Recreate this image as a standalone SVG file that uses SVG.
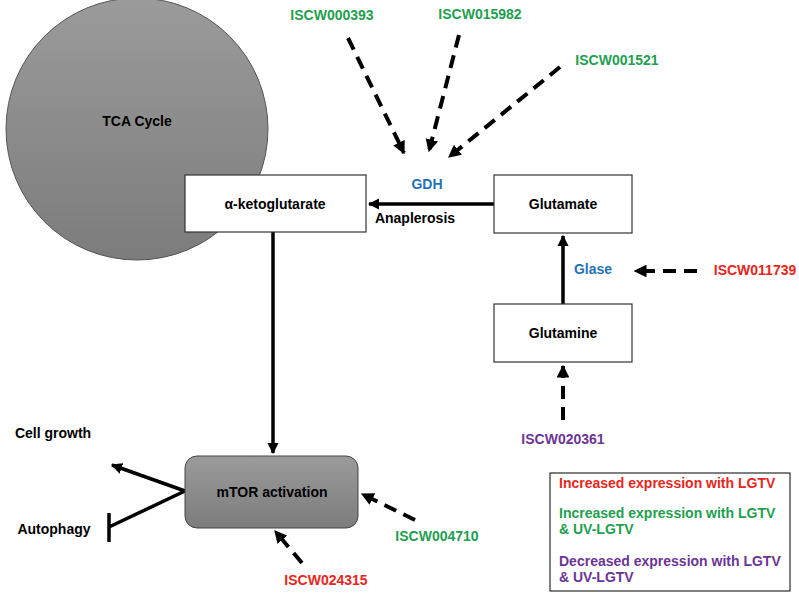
<svg xmlns="http://www.w3.org/2000/svg" width="799" height="595" viewBox="0 0 799 595">
<style>
text{font-family:"Liberation Sans",Arial,sans-serif;font-weight:bold;font-size:14px;text-anchor:middle}
.box{fill:#fff;stroke:#333;stroke-width:1.2}
.solid{stroke:#000;stroke-width:3.5;fill:none}
.dash{stroke:#000;stroke-width:4;fill:none;stroke-dasharray:13 8}
.g{fill:#1ea04f}.r{fill:#e82620}.p{fill:#6b3597}.b{fill:#1f73b8}
.l{text-anchor:start}
</style>
<defs>
<linearGradient id="gr" x1="0" y1="0" x2="0" y2="1"><stop offset="0" stop-color="#9b9b9b"/><stop offset="1" stop-color="#7c7c7c"/></linearGradient>
<marker id="ah" viewBox="0 0 10 10" refX="9" refY="5" markerWidth="3.2" markerHeight="3.2" markerUnits="strokeWidth" orient="auto"><path d="M0,0L10,5L0,10z" fill="#000"/></marker>
</defs>
<g id="tca"><circle cx="137" cy="129" r="131" fill="url(#gr)" stroke="#555" stroke-width="1"/><text x="137" y="126">TCA Cycle</text></g>
<g id="connectors">
<line class="solid" x1="494" y1="204" x2="369" y2="204" marker-end="url(#ah)"/>
<line class="solid" x1="563" y1="304" x2="563" y2="236" marker-end="url(#ah)"/>
<line class="solid" x1="273" y1="232" x2="273" y2="453" marker-end="url(#ah)"/>
<line class="solid" x1="185" y1="491" x2="112" y2="465" marker-end="url(#ah)"/>
<polyline class="solid" points="185,491 109,527"/>
<line class="solid" x1="109" y1="513" x2="109" y2="542"/>
<line class="dash" x1="348" y1="38" x2="404" y2="153" marker-end="url(#ah)"/>
<line class="dash" x1="459" y1="35" x2="429" y2="151" marker-end="url(#ah)"/>
<line class="dash" x1="560" y1="67" x2="449" y2="157" marker-end="url(#ah)"/>
<line class="dash" x1="697" y1="271" x2="635" y2="271" marker-end="url(#ah)"/>
<line class="dash" x1="563" y1="420" x2="563" y2="366" marker-end="url(#ah)"/>
<line class="dash" x1="415" y1="520" x2="362" y2="494" marker-end="url(#ah)"/>
<line class="dash" x1="302" y1="563" x2="275" y2="531" marker-end="url(#ah)"/>
</g>
<g id="akg"><rect class="box" x="185" y="175" width="181" height="57"/><text x="275" y="209">α-ketoglutarate</text></g>
<g id="glutamate"><rect class="box" x="494" y="175" width="138" height="58"/><text x="563" y="209">Glutamate</text></g>
<g id="glutamine"><rect class="box" x="494" y="304" width="138" height="58"/><text x="563" y="338">Glutamine</text></g>
<g id="mtor"><rect x="185" y="456" width="173" height="72" rx="12" fill="url(#gr)" stroke="#444" stroke-width="1"/><text x="272" y="497">mTOR activation</text></g>
<g id="labels">
<text class="b" x="427" y="189">GDH</text>
<text x="415" y="223">Anaplerosis</text>
<text class="b" x="593" y="274">Glase</text>
<text x="53" y="438">Cell growth</text>
<text x="54" y="534">Autophagy</text>
</g>
<g id="genes">
<text class="g" x="332" y="20">ISCW000393</text>
<text class="g" x="480" y="19">ISCW015982</text>
<text class="g" x="617" y="65">ISCW001521</text>
<text class="r" x="755" y="275">ISCW011739</text>
<text class="p" x="563" y="444">ISCW020361</text>
<text class="g" x="437" y="541">ISCW004710</text>
<text class="r" x="326" y="585">ISCW024315</text>
</g>
<g id="legend">
<rect x="550" y="473" width="240" height="118" fill="#fff" stroke="#000" stroke-width="1"/>
<text class="r l" x="559" y="488">Increased expression with LGTV</text>
<text class="g l" x="559" y="518">Increased expression with LGTV</text>
<text class="g l" x="559" y="534">&amp; UV-LGTV</text>
<text class="p l" x="559" y="566">Decreased expression with LGTV</text>
<text class="p l" x="559" y="582">&amp; UV-LGTV</text>
</g>
</svg>
